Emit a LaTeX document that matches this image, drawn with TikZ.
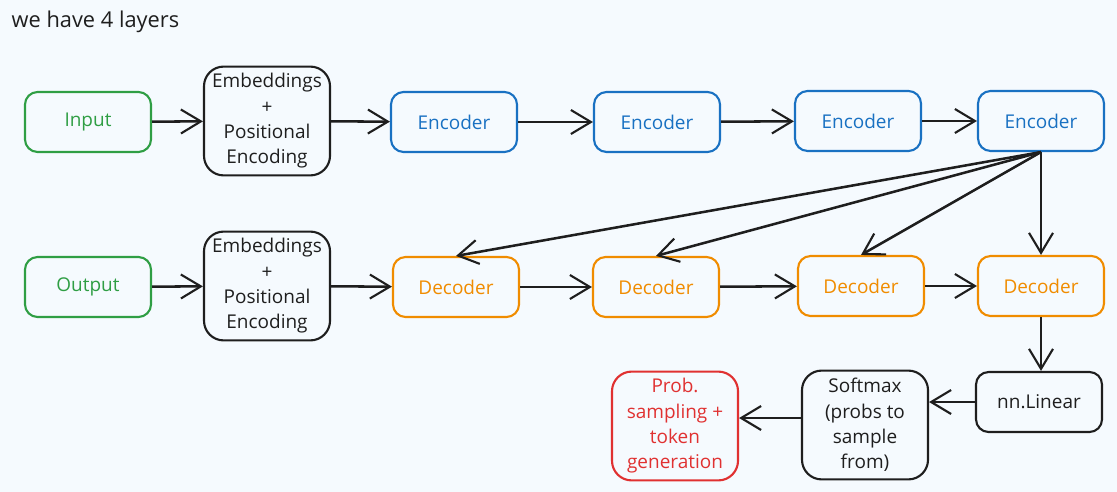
\documentclass[tikz,border=0pt]{standalone}
\usepackage{fontspec}
\setmainfont{Open Sans}
\usetikzlibrary{arrows.meta}
\definecolor{bgblue}{HTML}{F5FAFE}
\definecolor{ink}{HTML}{1E1E1E}
\definecolor{ingreen}{HTML}{2F9E44}
\definecolor{encblue}{HTML}{1971C2}
\definecolor{decorange}{HTML}{F08C00}
\definecolor{probred}{HTML}{E03131}
\begin{document}
\begin{tikzpicture}[x=0.025cm,y=-0.025cm,line width=1.5pt,
  every node/.style={font=\fontsize{13.5}{18}\selectfont},
  box/.style={draw=ink,text=ink,rounded corners=9pt,align=center,minimum width=3.15cm,minimum height=1.5cm,inner sep=1pt},
  tall/.style={box,rounded corners=14pt,minimum height=2.72cm},
  io/.style={box,draw=ingreen,text=ingreen},
  enc/.style={box,draw=encblue,text=encblue},
  dec/.style={box,draw=decorange,text=decorange},
  arr/.style={draw=ink,line width=1.8pt,-{Straight Barb[length=5mm,width=6mm,line width=1.5pt]}}]
\fill[bgblue] (0,0) rectangle (1117,492);
\node[anchor=west,text=ink,font=\fontsize{15.5}{18}\selectfont] (title) at (6,22) {we have 4 layers};
% top row
\node[io] (input) at (88,122) {Input};
\node[tall] (emb1) at (267,121) {Embeddings\\+\\Positional\\Encoding};
\node[enc] (enc1) at (454,122) {Encoder};
\node[enc] (enc2) at (657,122) {Encoder};
\node[enc] (enc3) at (858,121) {Encoder};
\node[enc] (enc4) at (1041,121) {Encoder};
% bottom row
\node[io] (output) at (88,287) {Output};
\node[tall] (emb2) at (267,286) {Embeddings\\+\\Positional\\Encoding};
\node[dec] (dec1) at (456,287) {Decoder};
\node[dec] (dec2) at (656,287) {Decoder};
\node[dec] (dec3) at (861,286) {Decoder};
\node[dec] (dec4) at (1041,286) {Decoder};
% head
\node[box] (linear) at (1039,402) {nn.Linear};
\node[tall] (softmax) at (865,425) {Softmax\\(probs to\\sample\\from)};
\node[tall,draw=probred,text=probred] (prob) at (675,426) {Prob.\\sampling +\\token\\generation};
\draw[arr] (input) -- (emb1);
\draw[arr] (emb1) -- (enc1);
\draw[arr] (enc1) -- (enc2);
\draw[arr] (enc2) -- (enc3);
\draw[arr] (enc3) -- (enc4);
\draw[arr] (output) -- (emb2);
\draw[arr] (emb2) -- (dec1);
\draw[arr] (dec1) -- (dec2);
\draw[arr] (dec2) -- (dec3);
\draw[arr] (dec3) -- (dec4);
\foreach \d in {dec1,dec2,dec3,dec4}
  \draw[arr] (enc4.south) -- (\d.north);
\draw[arr] (dec4.south) -- (linear.north -| dec4.south);
\draw[arr] (linear.west) -- (linear.west -| softmax.east);
\draw[arr] (softmax.west |- 0,418) -- (prob.east |- 0,418);
\end{tikzpicture}
\end{document}
